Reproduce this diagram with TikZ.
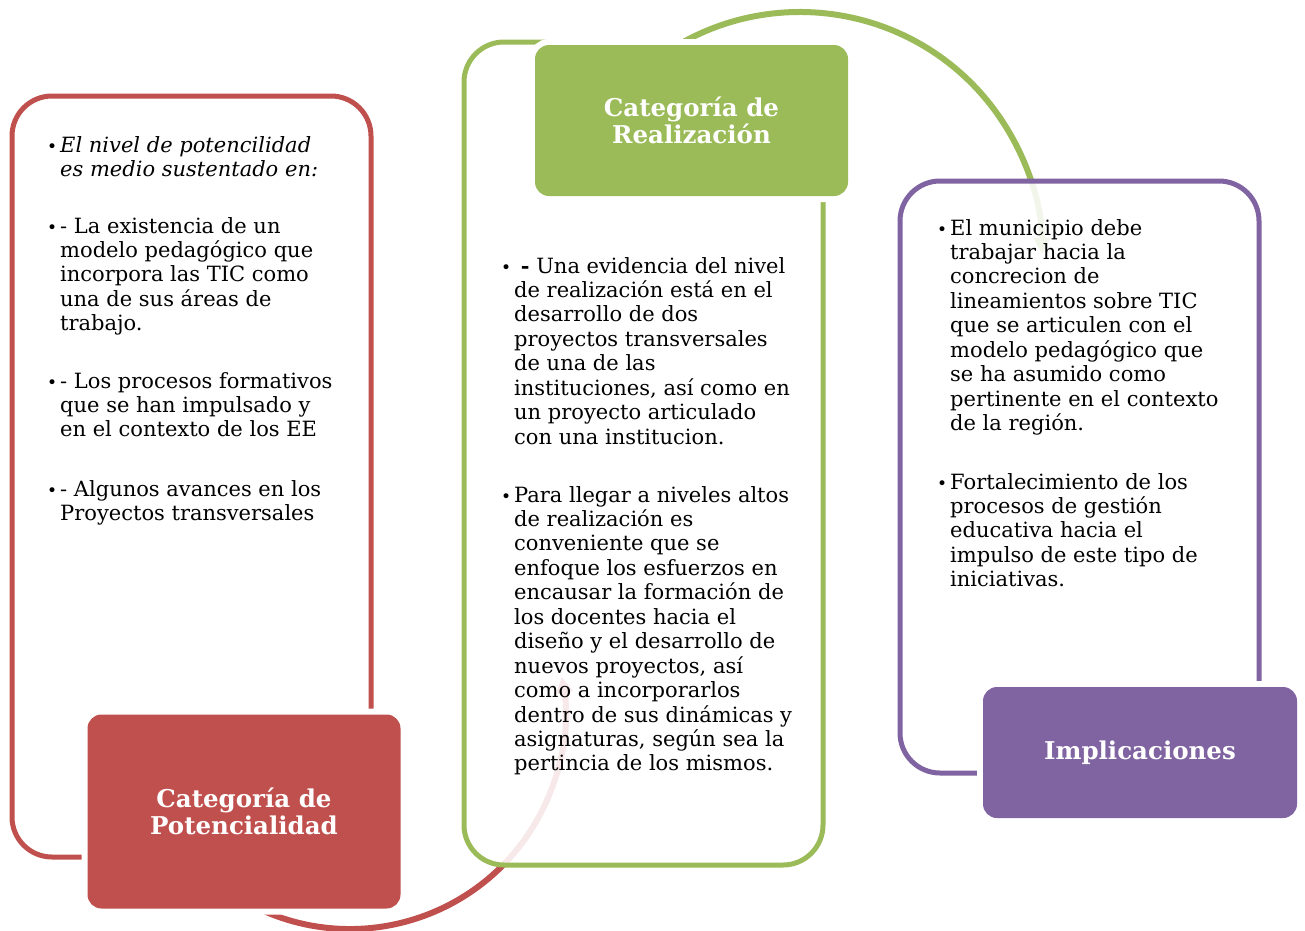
\documentclass[tikz,border=0pt]{standalone}
\usepackage{fontspec}
\setmainfont{DejaVu Serif}
\usetikzlibrary{arrows.meta}
\definecolor{CatRed}{HTML}{C0504D}
\definecolor{CatGreen}{HTML}{9BBB59}
\definecolor{CatPurple}{HTML}{8064A2}
\newcommand{\bul}{\makebox[13pt][l]{\fontsize{17}{17}\selectfont\textbullet}}

\begin{document}
\begin{tikzpicture}[
    x=1pt, y=1pt,
    frame/.style={rounded corners=40pt, line width=5pt, fill=white, fill opacity=0.88},
    catbox/.style={
      rounded corners=14pt,
      text=white,
      align=center,
      inner sep=0pt,
      font=\fontsize{24.5}{27}\selectfont\bfseries,
      preaction={draw=white, line width=12pt}
    },
    cyclearc/.style={line width=6pt, -{Triangle[length=16pt,width=16pt]}},
    bodytext/.style={anchor=base west, inner sep=0pt, font=\fontsize{21}{24.45}\selectfont}
  ]
  \useasboundingbox (0,0) rectangle (1305,-930);
  \coordinate (potc) at (350,-714);
  \coordinate (realc) at (800,-254);
  \draw[cyclearc, CatRed] ([shift={(240:215)}]potc) arc[start angle=240, end angle=370, radius=215];
  \draw[cyclearc, CatGreen] ([shift={(125:242)}]realc) arc[start angle=125, end angle=0, radius=242];

  \draw[frame, draw=CatRed] (12,-96) rectangle (371,-857);
  \draw[frame, draw=CatGreen] (464,-42) rectangle (823,-865);
  \draw[frame, draw=CatPurple] (900,-181) rectangle (1259,-773);

  \node[catbox, fill=CatRed, minimum width=313pt, minimum height=194pt] (pot) at (244,-811.5) {Categoría de\\Potencialidad};
  \node[catbox, fill=CatGreen, minimum width=313pt, minimum height=151pt] (real) at (691.5,-120.5) {Categoría de\\Realización};
  \node[catbox, fill=CatPurple, minimum width=314pt, minimum height=131pt] (impl) at (1140,-752.5) {Implicaciones};

  \node[bodytext] (potA) at (47,-152) {\begin{tabular}[t]{@{}l@{}l@{}}
    \bul & \itshape El nivel de potencilidad\\
    & \itshape es medio sustentado en:
  \end{tabular}};
  \node[bodytext] (potB) at (47,-233) {\begin{tabular}[t]{@{}l@{}l@{}}
    \bul & - La existencia de un\\
    & modelo pedagógico que\\
    & incorpora las TIC como\\
    & una de sus áreas de\\
    & trabajo.
  \end{tabular}};
  \node[bodytext] (potC) at (47,-388) {\begin{tabular}[t]{@{}l@{}l@{}}
    \bul & - Los procesos formativos\\
    & que se han impulsado y\\
    & en el contexto de los EE
  \end{tabular}};
  \node[bodytext] (potD) at (47,-496) {\begin{tabular}[t]{@{}l@{}l@{}}
    \bul & - Algunos avances en los\\
    & Proyectos transversales
  \end{tabular}};

  \node[bodytext] (realA) at (501,-273) {\begin{tabular}[t]{@{}l@{}l@{}}
    \bul & \ \textbf{-} Una evidencia del nivel\\
    & de realización está en el\\
    & desarrollo de dos\\
    & proyectos transversales\\
    & de una de las\\
    & instituciones, así como en\\
    & un proyecto articulado\\
    & con una institucion.
  \end{tabular}};
  \node[bodytext] (realB) at (501,-502) {\begin{tabular}[t]{@{}l@{}l@{}}
    \bul & Para llegar a niveles altos\\
    & de realización es\\
    & conveniente que se\\
    & enfoque los esfuerzos en\\
    & encausar la formación de\\
    & los docentes hacia el\\
    & diseño y el desarrollo de\\
    & nuevos proyectos, así\\
    & como a incorporarlos\\
    & dentro de sus dinámicas y\\
    & asignaturas, según sea la\\
    & pertincia de los mismos.
  \end{tabular}};

  \node[bodytext] (implA) at (937,-235) {\begin{tabular}[t]{@{}l@{}l@{}}
    \bul & El municipio debe\\
    & trabajar hacia la\\
    & concrecion de\\
    & lineamientos sobre TIC\\
    & que se articulen con el\\
    & modelo pedagógico que\\
    & se ha asumido como\\
    & pertinente en el contexto\\
    & de la región.
  \end{tabular}};
  \node[bodytext] (implB) at (937,-489) {\begin{tabular}[t]{@{}l@{}l@{}}
    \bul & Fortalecimiento de los\\
    & procesos de gestión\\
    & educativa hacia el\\
    & impulso de este tipo de\\
    & iniciativas.
  \end{tabular}};
\end{tikzpicture}
\end{document}
